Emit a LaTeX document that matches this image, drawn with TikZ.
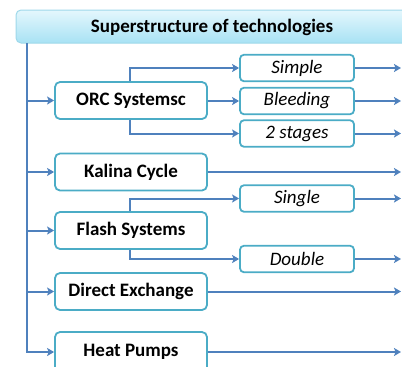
\documentclass[tikz,border=0pt]{standalone}
\usepackage{fontspec}
\setmainfont{Carlito}
\usetikzlibrary{arrows.meta,calc}
\definecolor{linec}{HTML}{4F81BD}
\definecolor{boxc}{HTML}{4BACC6}
\definecolor{titleb}{HTML}{9ED8EA}
\definecolor{titletop}{HTML}{E4F7FD}
\definecolor{titlebot}{HTML}{A8E2F4}
\tikzset{
  mainbox/.style={draw=boxc,line width=1.8pt,fill=white,rounded corners=5pt,minimum width=152pt,minimum height=37pt,inner sep=0pt,font=\fontsize{19}{21}\selectfont\bfseries},
  subbox/.style={draw=boxc,line width=1.8pt,fill=white,rounded corners=4pt,minimum width=114pt,minimum height=26.5pt,inner sep=0pt,font=\fontsize{19}{21}\selectfont\itshape},
  conn/.style={draw=linec,line width=2pt},
  arr/.style={conn,-{Stealth[length=7pt,width=8pt,inset=1.5pt]}}
}
\begin{document}
\begin{tikzpicture}[x=1pt,y=-1pt]
\useasboundingbox (0,0) rectangle (402,367);
\begin{scope}
\clip (0,0) rectangle (402,367);
% title
\shade[top color=titletop,bottom color=titlebot,draw=titleb,line width=1pt,rounded corners=5pt] (16,10) rectangle (430,43);
\node[font=\fontsize{19}{21}\selectfont\bfseries,inner sep=0pt] (title) at (212,27) {Superstructure of technologies};
\coordinate (t) at (27,43);
\coordinate (e) at (401,0);
% main boxes
\node[mainbox] (orc) at (131,100.5) {ORC Systemsc};
\node[mainbox] (kalina) at (131,172) {Kalina Cycle};
\node[mainbox] (flash) at (131,230.5) {Flash Systems};
\node[mainbox] (direct) at (131,291.5) {Direct Exchange};
\node[mainbox,minimum height=40pt] (heat) at (131,352) {Heat Pumps};
% sub boxes
\node[subbox] (simple) at (297,68) {Simple};
\node[subbox] (bleeding) at (297,101) {Bleeding};
\node[subbox] (stages) at (297,133.5) {2 stages};
\node[subbox] (single) at (297,198.5) {Single};
\node[subbox] (double) at (297,259) {Double};
% trunk
\draw[arr] (t) |- (heat.west);
\draw[arr] (t |- orc.west) -- (orc.west);
\draw[arr] (t |- kalina.west) -- (kalina.west);
\draw[arr] (t |- flash.west) -- (flash.west);
\draw[arr] (t |- direct.west) -- (direct.west);
% orc branches
\draw[arr] ([xshift=-1pt]orc.north) |- (simple.west);
\draw[arr] (orc.east |- bleeding.west) -- (bleeding.west);
\draw[arr] ([xshift=-1pt]orc.south) |- (stages.west);
% flash branches
\draw[arr] ([xshift=-1pt]flash.north) |- (single.west);
\draw[arr] ([xshift=-1pt]flash.south) |- (double.west);
% outgoing
\draw[arr] (simple.east) -- (simple.east -| e);
\draw[arr] (bleeding.east) -- (bleeding.east -| e);
\draw[arr] (stages.east) -- (stages.east -| e);
\draw[arr] (kalina.east) -- (kalina.east -| e);
\draw[arr] (single.east) -- (single.east -| e);
\draw[arr] (double.east) -- (double.east -| e);
\draw[arr] (direct.east) -- (direct.east -| e);
\draw[arr] (heat.east) -- (heat.east -| e);
\end{scope}
\end{tikzpicture}
\end{document}
